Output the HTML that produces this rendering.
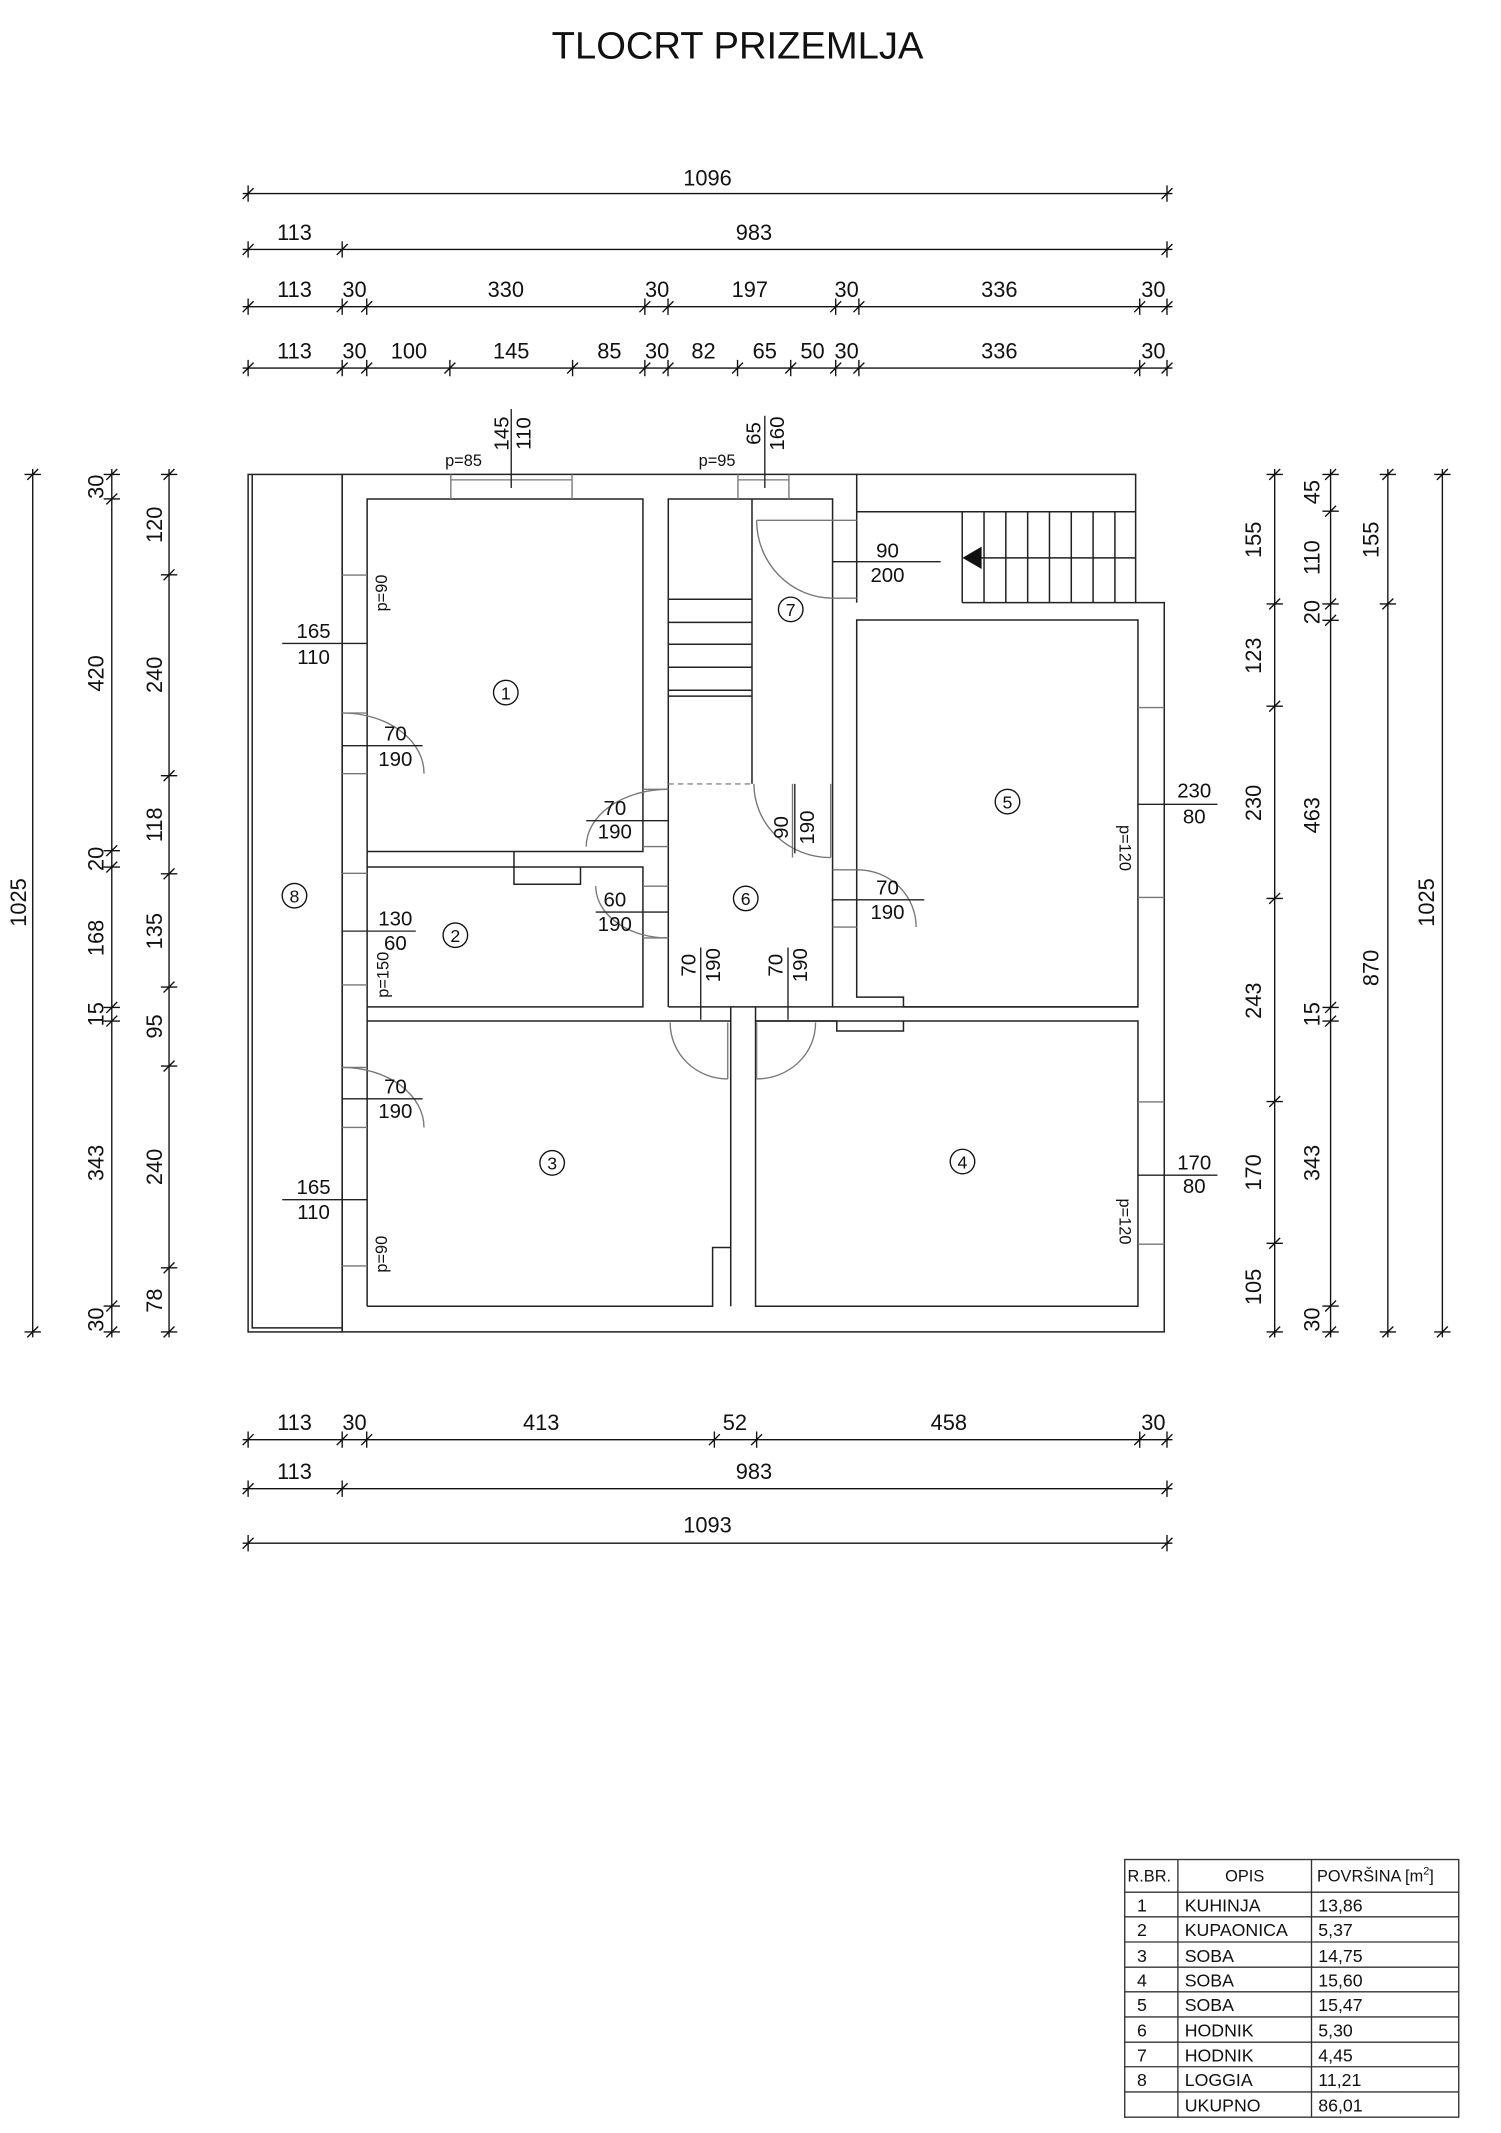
<!DOCTYPE html>
<html><head><meta charset="utf-8"><style>
html,body{margin:0;padding:0;background:#fff}
svg{display:block}
text{font-family:"Liberation Sans Narrow","Liberation Sans",sans-serif;fill:#111}
</style></head><body>
<svg width="1501" height="2133" viewBox="0 0 1101 1564.6" preserveAspectRatio="none" xmlns="http://www.w3.org/2000/svg">
<rect width="1101" height="1565" fill="#fff"/>
<text x="541" y="43" font-size="28" text-anchor="middle" style="font-family:'Liberation Sans',sans-serif">TLOCRT PRIZEMLJA</text>

<g stroke="#111" stroke-width="1" fill="none">
<!-- top dims -->
<path d="M178 142H860 M178 183H860 M178 225H860 M178 270H860"/>
<path d="M178 146L186 138M182 136V148 M852 146L860 138M856 136V148"/>
<path d="M178 187L186 179M182 177V189 M247 187L255 179M251 177V189 M852 187L860 179M856 177V189"/>
<path d="M178 229L186 221M182 219V231 M247 229L255 221M251 219V231 M265 229L273 221M269 219V231 M469 229L477 221M473 219V231 M486 229L494 221M490 219V231 M609 229L617 221M613 219V231 M626 229L634 221M630 219V231 M832 229L840 221M836 219V231 M852 229L860 221M856 219V231"/>
<path d="M178 274L186 266M182 264V276 M247 274L255 266M251 264V276 M265 274L273 266M269 264V276 M326 274L334 266M330 264V276 M416 274L424 266M420 264V276 M469 274L477 266M473 264V276 M486 274L494 266M490 264V276 M537 274L545 266M541 264V276 M576 274L584 266M580 264V276 M609 274L617 266M613 264V276 M626 274L634 266M630 264V276 M832 274L840 266M836 264V276 M852 274L860 266M856 264V276"/>
<!-- bottom dims -->
<path d="M178 1056H860 M178 1092H860 M178 1132H860"/>
<path d="M178 1060L186 1052M182 1050V1062 M247 1060L255 1052M251 1050V1062 M265 1060L273 1052M269 1050V1062 M520 1060L528 1052M524 1050V1062 M551 1060L559 1052M555 1050V1062 M832 1060L840 1052M836 1050V1062 M852 1060L860 1052M856 1050V1062"/>
<path d="M178 1096L186 1088M182 1086V1098 M247 1096L255 1088M251 1086V1098 M852 1096L860 1088M856 1086V1098"/>
<path d="M178 1136L186 1128M182 1126V1138 M852 1136L860 1128M856 1126V1138"/>
<!-- left dims -->
<path d="M24 344V981 M82 344V981 M124 344V981"/>
<path d="M20 352L28 344M18 348H30 M20 981L28 973M18 977H30"/>
<path d="M78 352L86 344M76 348H88 M78 370L86 362M76 366H88 M78 628L86 620M76 624H88 M78 640L86 632M76 636H88 M78 743L86 735M76 739H88 M78 753L86 745M76 749H88 M78 962L86 954M76 958H88 M78 981L86 973M76 977H88"/>
<path d="M120 352L128 344M118 348H130 M120 425.6L128 417.6M118 421.6H130 M120 573L128 565M118 569H130 M120 645L128 637M118 641H130 M120 728L128 720M118 724H130 M120 786L128 778M118 782H130 M120 934L128 926M118 930H130 M120 981L128 973M118 977H130"/>
<!-- right dims -->
<path d="M935 344V981 M976 344V981 M1018 344V981 M1058 344V981"/>
<path d="M931 352L939 344M929 348H941 M931 447L939 439M929 443H941 M931 522L939 514M929 518H941 M931 663L939 655M929 659H941 M931 812L939 804M929 808H941 M931 916L939 908M929 912H941 M931 981L939 973M929 977H941"/>
<path d="M972 352L980 344M970 348H982 M972 379L980 371M970 375H982 M972 447L980 439M970 443H982 M972 459L980 451M970 455H982 M972 743L980 735M970 739H982 M972 753L980 745M970 749H982 M972 962L980 954M970 958H982 M972 981L980 973M970 977H982"/>
<path d="M1014 352L1022 344M1012 348H1024 M1014 447L1022 439M1012 443H1024 M1014 981L1022 973M1012 977H1024"/>
<path d="M1054 352L1062 344M1052 348H1064 M1054 981L1062 973M1052 977H1064"/>
</g>

<g font-size="16" text-anchor="middle">
<text x="519" y="136">1096</text>
<text x="216" y="176">113</text><text x="553" y="176">983</text>
<text x="216" y="218">113</text><text x="260" y="218">30</text><text x="371" y="218">330</text><text x="482" y="218">30</text><text x="550" y="218">197</text><text x="621" y="218">30</text><text x="733" y="218">336</text><text x="846" y="218">30</text>
<text x="216" y="263">113</text><text x="260" y="263">30</text><text x="300" y="263">100</text><text x="375" y="263">145</text><text x="447" y="263">85</text><text x="482" y="263">30</text><text x="516" y="263">82</text><text x="561" y="263">65</text><text x="596" y="263">50</text><text x="621" y="263">30</text><text x="733" y="263">336</text><text x="846" y="263">30</text>
<text x="216" y="1049">113</text><text x="260" y="1049">30</text><text x="397" y="1049">413</text><text x="539" y="1049">52</text><text x="696" y="1049">458</text><text x="846" y="1049">30</text>
<text x="216" y="1085">113</text><text x="553" y="1085">983</text>
<text x="519" y="1124">1093</text>
<!-- left rotated -->
<text transform="translate(19,662) rotate(-90)">1025</text>
<text transform="translate(76,357) rotate(-90)">30</text>
<text transform="translate(76,494) rotate(-90)">420</text>
<text transform="translate(76,630) rotate(-90)">20</text>
<text transform="translate(76,688) rotate(-90)">168</text>
<text transform="translate(76,744) rotate(-90)">15</text>
<text transform="translate(76,853) rotate(-90)">343</text>
<text transform="translate(76,968) rotate(-90)">30</text>
<text transform="translate(119,385) rotate(-90)">120</text>
<text transform="translate(119,495) rotate(-90)">240</text>
<text transform="translate(119,605) rotate(-90)">118</text>
<text transform="translate(119,683) rotate(-90)">135</text>
<text transform="translate(119,753) rotate(-90)">95</text>
<text transform="translate(119,856) rotate(-90)">240</text>
<text transform="translate(119,954) rotate(-90)">78</text>
<!-- right rotated -->
<text transform="translate(925,396) rotate(-90)">155</text>
<text transform="translate(925,481) rotate(-90)">123</text>
<text transform="translate(925,589) rotate(-90)">230</text>
<text transform="translate(925,734) rotate(-90)">243</text>
<text transform="translate(925,860) rotate(-90)">170</text>
<text transform="translate(925,944) rotate(-90)">105</text>
<text transform="translate(968,361) rotate(-90)">45</text>
<text transform="translate(968,409) rotate(-90)">110</text>
<text transform="translate(968,449) rotate(-90)">20</text>
<text transform="translate(968,598) rotate(-90)">463</text>
<text transform="translate(968,744) rotate(-90)">15</text>
<text transform="translate(968,853) rotate(-90)">343</text>
<text transform="translate(968,968) rotate(-90)">30</text>
<text transform="translate(1011,396) rotate(-90)">155</text>
<text transform="translate(1011,710) rotate(-90)">870</text>
<text transform="translate(1052,662) rotate(-90)">1025</text>
</g>

<!-- PLAN -->
<g stroke="#222" stroke-width="1.1" fill="none">
<rect x="182" y="348" width="69" height="629"/>
<path d="M185 348V974H251"/>
<path d="M251 348H833V442H854V977H251V348"/>
<path d="M628.4 348V442 M628.4 375.4H833"/>
<path d="M269.3 958.2V366H471.6V624.6H269.3 M269.3 636H471.6V738.6H269.3"/>
<path d="M377 624.6V648.6H425.8V636"/>
<path d="M490.2 738.6V366H610.7V738.6H490.2 M551.6 366V575"/>
<path d="M628.4 454.8H834.7V738.6H662.7V731.4H628.4Z"/>
<path d="M269.3 748.9H536V915.1H522.7V958.2H269.3"/>
<path d="M554.2 748.9H834.7V958.2H554.2Z"/>
<path d="M536 738.6V958.2 M554.2 738.6V748.9 M610.7 738.6H834.7 M554.2 748.9H613.8V756.3H662.7V748.9"/>
<!-- stairs -->
<path d="M490.2 439.6H551.6M490.2 456.5H551.6M490.2 472.6H551.6M490.2 489.4H551.6M490.2 506.3H551.6M490.2 510.6H551.6"/>
<path d="M705.8 375.4V442M721.8 375.4V442M737.8 375.4V442M753.8 375.4V442M769.8 375.4V442M785.8 375.4V442M801.8 375.4V442M817.8 375.4V442 M705.8 442H833 M718 409.2H833"/>
</g>
<path d="M706 409.2L720 401V417.4Z" fill="#111"/>
<path d="M490.2 575H551.6" stroke="#888" stroke-dasharray="4,3"/>

<!-- windows / openings in walls (grey) -->
<g stroke="#777" stroke-width="1" fill="none">
<path d="M330.7 348V366M419.6 348V366M541.3 348V366M578.7 348V366 M330.7 352H419.6 M541.3 352H578.7"/>
<path d="M251 421.8H269.3M251 523H269.3M251 567.5H269.3M251 640.6H269.3M251 722.5H269.3M251 783H269.3M251 827H269.3M251 928.6H269.3"/>
<path d="M834.7 519H854M834.7 658.3H854M834.7 808.3H854M834.7 912.6H854"/>
<path d="M610.7 381.7H628.4M610.7 438.8H628.4M610.7 638H628.4M610.7 680H628.4"/>
<path d="M471.6 579H490.2M471.6 621H490.2M471.6 650H490.2M471.6 688H490.2"/>
<!-- door arcs -->
<path d="M555 381.7A56 57 0 0 0 610.7 438.8 M555 381.7H610.7"/>
<path d="M251 523A60 44 0 0 1 311 567.5"/>
<path d="M490.2 579A60 42 0 0 0 430 621"/>
<path d="M437 650A53 38 0 0 0 490.2 688"/>
<path d="M553 575A56 54 0 0 0 609.3 629 M609.3 575V629 M581.3 575V629"/>
<path d="M629 638A43 42 0 0 1 672 680"/>
<path d="M251 783A60 44 0 0 1 311 827"/>
<path d="M491.6 750A42 41 0 0 0 533.8 791.4 M533.8 750V791.4"/>
<path d="M598.2 750A43 41 0 0 1 555 791.4 M555 750V791.4"/>
</g>

<!-- label leader lines -->
<g stroke="#222" stroke-width="1" fill="none">
<path d="M375 358V300 M561 358V305"/>
<path d="M610.7 412H690"/>
<path d="M207 472H269.3 M207 880H269.3"/>
<path d="M251 547H310 M430 602H490 M437 669H490 M251 683H305 M610 660H678 M251 806H310"/>
<path d="M835 590H893 M835 862H893"/>
<path d="M583 575V626 M514 695V748 M578 695V748"/>
</g>

<g font-size="15" text-anchor="middle">
<text transform="translate(373,318) rotate(-90)">145</text>
<text transform="translate(389,318) rotate(-90)">110</text>
<text transform="translate(558,318) rotate(-90)">65</text>
<text transform="translate(575,318) rotate(-90)">160</text>
<text x="651" y="409">90</text><text x="651" y="427">200</text>
<text x="230" y="468">165</text><text x="230" y="487">110</text>
<text x="230" y="876">165</text><text x="230" y="894">110</text>
<text x="290" y="543">70</text><text x="290" y="562">190</text>
<text x="451" y="598">70</text><text x="451" y="615">190</text>
<text x="451" y="665">60</text><text x="451" y="683">190</text>
<text x="290" y="679">130</text><text x="290" y="697">60</text>
<text x="651" y="656">70</text><text x="651" y="674">190</text>
<text x="290" y="802">70</text><text x="290" y="820">190</text>
<text x="876" y="585">230</text><text x="876" y="604">80</text>
<text x="876" y="858">170</text><text x="876" y="875">80</text>
<text transform="translate(578,607) rotate(-90)">90</text>
<text transform="translate(597,607) rotate(-90)">190</text>
<text transform="translate(510,708) rotate(-90)">70</text>
<text transform="translate(528,708) rotate(-90)">190</text>
<text transform="translate(574,708) rotate(-90)">70</text>
<text transform="translate(592,708) rotate(-90)">190</text>
</g>
<g font-size="12" text-anchor="middle">
<text x="340" y="342">p=85</text>
<text x="526" y="342">p=95</text>
<text transform="translate(284,435) rotate(-90)">p=90</text>
<text transform="translate(285,715) rotate(-90)">p=150</text>
<text transform="translate(284,920) rotate(-90)">p=90</text>
<text transform="translate(821,622) rotate(90)">p=120</text>
<text transform="translate(821,896) rotate(90)">p=120</text>
</g>

<!-- room numbers -->
<g stroke="#111" fill="none" stroke-width="1">
<circle cx="371" cy="508" r="9"/><circle cx="334" cy="686" r="9"/><circle cx="405" cy="853" r="9"/><circle cx="706" cy="852" r="9"/>
<circle cx="739" cy="588" r="9"/><circle cx="547" cy="659" r="9"/><circle cx="580" cy="447" r="9"/><circle cx="216" cy="657" r="9"/>
</g>
<g font-size="13" text-anchor="middle">
<text x="371" y="513">1</text><text x="334" y="691">2</text><text x="405" y="858">3</text><text x="706" y="857">4</text>
<text x="739" y="593">5</text><text x="547" y="664">6</text><text x="580" y="452">7</text><text x="216" y="662">8</text>
</g>

<!-- table -->
<g stroke="#333" stroke-width="1" fill="none">
<rect x="825" y="1364" width="245" height="189"/>
<path d="M864 1364V1553M962 1364V1553M825 1388H1070M825 1406H1070M825 1424.5H1070M825 1443H1070M825 1461H1070M825 1479.5H1070M825 1498H1070M825 1516H1070M825 1534.5H1070"/>
</g>
<g font-size="13">
<text x="827" y="1380" font-size="12">R.BR.</text>
<text x="913" y="1380" text-anchor="middle" font-size="12">OPIS</text>
<text x="966" y="1380" font-size="12">POVRŠINA [m<tspan dy="-5" font-size="8">2</tspan><tspan dy="5">]</tspan></text>
<text x="834" y="1402">1</text><text x="869" y="1402">KUHINJA</text><text x="967" y="1402">13,86</text>
<text x="834" y="1420">2</text><text x="869" y="1420">KUPAONICA</text><text x="967" y="1420">5,37</text>
<text x="834" y="1439">3</text><text x="869" y="1439">SOBA</text><text x="967" y="1439">14,75</text>
<text x="834" y="1457">4</text><text x="869" y="1457">SOBA</text><text x="967" y="1457">15,60</text>
<text x="834" y="1475">5</text><text x="869" y="1475">SOBA</text><text x="967" y="1475">15,47</text>
<text x="834" y="1494">6</text><text x="869" y="1494">HODNIK</text><text x="967" y="1494">5,30</text>
<text x="834" y="1512">7</text><text x="869" y="1512">HODNIK</text><text x="967" y="1512">4,45</text>
<text x="834" y="1530">8</text><text x="869" y="1530">LOGGIA</text><text x="967" y="1530">11,21</text>
<text x="869" y="1549">UKUPNO</text><text x="967" y="1549">86,01</text>
</g>
</svg>
</body></html>
